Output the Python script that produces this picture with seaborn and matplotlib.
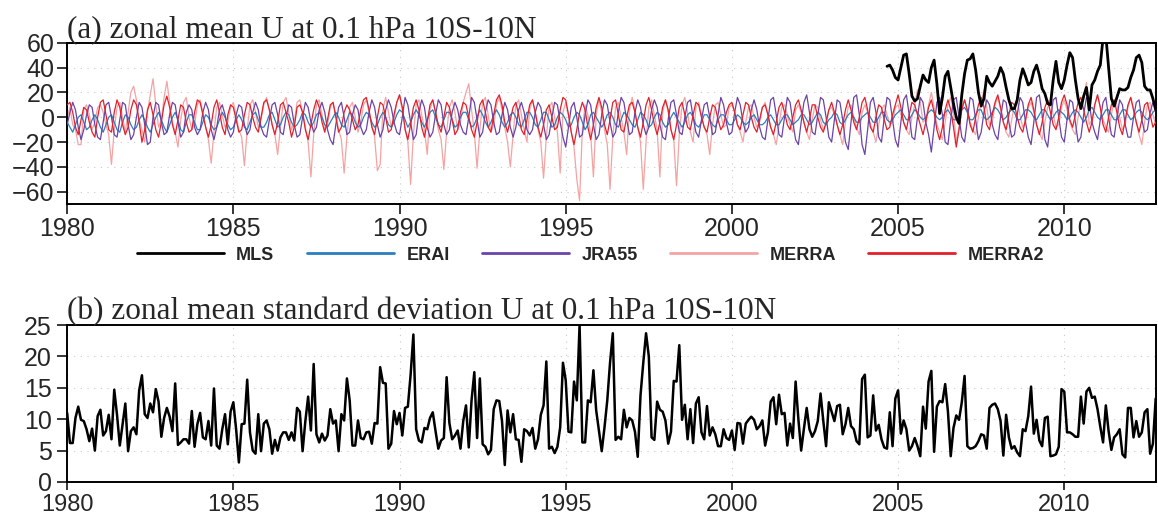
import numpy as np
import pandas as pd
import matplotlib
matplotlib.use("Agg")
import matplotlib.pyplot as plt
import seaborn as sns

# ---------------- data ----------------
start_year = 1980
# MLS: Sep 2004 .. Oct 2012 (month index 296 onward)
mls_start_month = 296
mls = [41, 42, 38, 32, 30, 40, 50, 51, 35, 17,
       13, 15, 25, 34, 30, 28, 40, 46, 27, 3,
       16, 33, 37, 24, 11, 0, -5, 18, 35, 46,
       47, 51, 38, 20, 9, 15, 33, 28, 25, 29,
       33, 40, 35, 24, 14, 7, 7, 14, 30, 39,
       33, 26, 28, 37, 42, 34, 23, 19, 11, 10,
       30, 45, 28, 23, 30, 42, 52, 48, 30, 15,
       7, 17, 24, 6, 26, 30, 37, 42, 64, 66,
       40, 15, 9, 16, 23, 22, 22, 24, 32, 38,
       48, 50, 44, 25, 22, 22, 15, 6]

merra2 = [
 [10, 12, 4, -8, -14, -2, 8, 6, -4, -12, -16, 0],
 [12, 14, 2, -10, -12, 4, 14, 8, -6, -14, -8, 6],
 [14, 10, -4, -20, -10, 6, 12, 2, -10, -16, -4, 10],
 [17, 8, -6, -14, -2, 10, 8, -4, -12, -10, 4, 14],
 [12, 2, -8, -16, -6, 8, 14, 4, -8, -14, 2, 10],
 [8, -2, -12, -10, 2, 12, 10, 0, -8, -12, 0, 12],
 [14, 6, -6, -14, -4, 10, 12, 4, -4, -16, -8, 8],
 [10, 4, -10, -18, -6, 6, 14, 8, -4, -12, -2, 10],
 [12, 0, -12, -8, 4, 10, 6, -2, -10, -6, 6, 14],
 [16, 6, -8, -14, 0, 12, 10, 0, -12, -10, 2, 12],
 [18, 8, -10, -18, -6, 8, 14, 6, -8, -16, -4, 10],
 [14, 4, -6, -12, 0, 12, 8, -2, -14, -10, 4, 12],
 [10, 0, -10, -16, -4, 10, 14, 4, -8, -12, 2, 14],
 [18, 10, -4, -12, -2, 8, 12, 2, -10, -14, -2, 10],
 [14, 4, -8, -16, -6, 6, 10, 0, -10, -8, 6, 16],
 [14, 2, -12, -22, -10, 4, 12, 6, -8, -18, -6, 8],
 [16, 8, -6, -14, -2, 12, 14, 2, -10, -12, 0, 10],
 [12, 4, -8, -16, -4, 10, 16, 6, -6, -14, -4, 8],
 [14, 6, -10, -18, -6, 8, 12, 2, -8, -10, 2, 12],
 [10, 0, -8, -12, 0, 10, 8, -2, -10, -6, 4, 10],
 [12, 4, -6, -10, 2, 12, 10, 0, -8, -12, -2, 8],
 [10, 2, -8, -14, -4, 8, 12, 4, -6, -10, 0, 10],
 [14, 6, -4, -12, -2, 10, 10, 0, -8, -12, -4, 6],
 [12, 4, -6, -14, -6, 6, 14, 6, -4, -10, 0, 12],
 [16, 6, -8, -12, 0, 10, 8, -2, -10, -8, 2, 10],
 [18, 8, -4, -10, 2, 12, 10, 2, -6, -14, -4, 8],
 [14, 4, -10, -18, -8, 6, 14, 6, -8, -24, -10, 6],
 [14, 6, -6, -12, 0, 10, 16, 8, -6, -10, 2, 12],
 [18, 8, -4, -10, 2, 12, 10, 0, -8, -12, -2, 10],
 [16, 6, -6, -14, -4, 8, 14, 4, -6, -10, 0, 12],
 [18, 10, -2, -8, 2, 12, 16, 6, -4, -12, -4, 10],
 [18, 8, -6, -12, 0, 10, 14, 4, -8, -14, -2, 10],
 [16, 6, -4, -12, -2, 10, 12, 2, -8, -4]]

jra55 = [
 [-6, 4, 12, 6, -8, -18, -10, 2, 10, 8, -6, -16],
 [-18, -4, 10, 12, 0, -14, -16, -2, 12, 10, -6, -18],
 [-14, 0, 12, 8, -6, -22, -20, 0, 12, 10, -4, -14],
 [-12, 2, 12, 10, -4, -16, -12, 4, 10, 6, -8, -14],
 [-10, 4, 12, 6, -10, -18, -8, 6, 10, 2, -10, -16],
 [-12, 2, 10, 8, -6, -14, -10, 4, 12, 6, -8, -14],
 [-16, -2, 10, 12, 2, -12, -14, 0, 10, 8, -6, -16],
 [-14, 0, 12, 8, -4, -12, -8, 6, 12, 4, -10, -18],
 [-22, -6, 8, 12, 0, -14, -12, 2, 10, 6, -8, -14],
 [-10, 4, 14, 8, -6, -16, -10, 6, 14, 8, -4, -12],
 [-14, 0, 16, 10, -4, -18, -14, 4, 14, 8, -8, -16],
 [-12, 2, 14, 10, -6, -14, -10, 4, 12, 6, -6, -12],
 [-14, 0, 16, 12, -2, -16, -12, 4, 14, 10, -4, -14],
 [-12, 2, 12, 6, -8, -16, -8, 6, 12, 4, -10, -14],
 [-10, 4, 12, 8, -6, -18, -14, 0, 12, 10, -4, -16],
 [-24, -8, 8, 12, 0, -16, -14, 2, 14, 10, -6, -18],
 [-14, 2, 14, 10, -4, -16, -12, 4, 16, 12, -2, -14],
 [-12, 4, 14, 8, -6, -14, -8, 6, 14, 8, -6, -16],
 [-18, -2, 12, 14, 2, -12, -14, 0, 12, 14, 0, -12],
 [-16, -2, 10, 12, 0, -14, -12, 2, 16, 10, -4, -14],
 [-12, 4, 16, 10, -4, -12, -8, 6, 14, 6, -8, -16],
 [-18, -2, 14, 16, 2, -14, -16, 0, 16, 12, -4, -18],
 [-22, -4, 12, 18, 4, -12, -14, 2, 16, 14, 0, -16],
 [-20, -2, 14, 12, -2, -20, -26, -4, 16, 18, 2, -22],
 [-30, -10, 12, 16, 4, -16, -20, 0, 16, 14, -2, -18],
 [-24, -4, 14, 18, 2, -16, -18, 0, 16, 12, -4, -14],
 [-28, -8, 12, 16, 2, -20, -22, -2, 14, 16, 0, -16],
 [-20, -2, 16, 14, -2, -18, -12, 4, 14, 10, -6, -14],
 [-18, 0, 14, 12, -4, -16, -14, 2, 16, 12, -4, -16],
 [-22, -4, 16, 18, 2, -18, -24, -2, 14, 16, 0, -16],
 [-20, -2, 14, 12, -4, -20, -16, 2, 16, 12, -4, -12],
 [-18, -2, 12, 16, 0, -14, -16, 0, 14, 10, -6, -16],
 [-16, 0, 12, 14, -2, -12, -10, 4, 12, 8]]

erai = [
 [-4, -8, -12, -6, 0, 2, -4, -10, -8, -2, 2, -2],
 [-8, -12, -6, 0, 2, -4, -10, -12, -4, 2, 0, -6],
 [-10, -8, -2, 2, -2, -8, -12, -6, 0, 4, -2, -8],
 [-12, -6, 0, 4, -2, -10, -12, -4, 2, 2, -4, -10],
 [-10, -4, 2, 0, -6, -10, -8, -2, 4, 0, -6, -10],
 [-8, -2, 2, -2, -8, -10, -4, 2, 4, -2, -8, -8],
 [-4, 2, 4, -2, -8, -6, 0, 4, 2, -4, -8, -6],
 [-2, 4, 2, -4, -8, -4, 2, 4, 0, -6, -8, -4],
 [0, 4, 0, -6, -8, -2, 4, 2, -4, -8, -6, 0],
 [4, 2, -4, -8, -6, 0, 4, 0, -6, -8, -4, 2],
 [6, 4, -2, -8, -4, 2, 6, 2, -4, -8, -2, 4],
 [6, 0, -6, -8, -2, 4, 4, -2, -8, -6, 0, 4],
 [4, -2, -8, -6, 0, 6, 2, -4, -8, -4, 2, 6],
 [2, -4, -8, -4, 2, 4, 0, -6, -8, -2, 4, 4],
 [0, -6, -8, -2, 4, 4, -2, -8, -6, 0, 4, 2],
 [-2, -8, -6, 0, 4, 2, -4, -10, -6, 2, 4, 0],
 [-4, -8, -4, 2, 4, 0, -6, -8, -2, 4, 2, -2],
 [-6, -8, -2, 4, 2, -2, -8, -6, 0, 4, 2, -4],
 [-8, -6, 0, 4, 0, -4, -8, -4, 2, 4, 0, -6],
 [-8, -4, 2, 2, -2, -6, -8, -2, 2, 2, -2, -6],
 [-6, -2, 2, 0, -4, -6, -4, 0, 2, -2, -6, -6],
 [-4, 0, 2, -2, -6, -6, -2, 2, 2, -2, -6, -4],
 [-2, 2, 2, -2, -6, -4, 0, 4, 2, -4, -6, -2],
 [0, 4, 2, -4, -6, -2, 2, 4, 0, -4, -4, 0],
 [2, 4, 0, -4, -4, 0, 4, 4, -2, -4, -2, 2],
 [4, 6, 2, -2, -2, 2, 6, 4, 0, -2, 0, 4],
 [6, 4, 0, -2, 0, 4, 6, 2, -2, -2, 2, 6],
 [8, 4, -2, -2, 2, 6, 6, 0, -2, 0, 4, 8],
 [6, 2, -2, 0, 4, 6, 4, -2, -2, 2, 6, 6],
 [4, 0, -2, 2, 6, 6, 2, -2, 0, 4, 6, 4],
 [2, -2, 0, 4, 6, 4, 0, -4, 0, 6, 8, 4],
 [0, -2, 2, 6, 6, 2, -2, -2, 2, 6, 6, 2],
 [-2, 0, 4, 6, 4, 0, -2, 0, 4, 6]]

merra = [
 [0, 8, -6, -10, -22, -22, 6, 10, 2, -10, -4, 8],
 [10, 4, -6, -14, -38, -10, 8, 12, 0, -12, 4, 20],
 [25, 14, -2, -10, -20, 4, 18, 31, 10, -8, -2, 16],
 [29, 12, -4, -12, -24, -2, 12, 16, 0, -10, -6, 10],
 [14, 4, -8, -18, -37, -12, 8, 12, 2, -8, -4, 8],
 [12, 2, -10, -16, -39, -10, 10, 14, 4, -8, -2, 10],
 [16, 6, -6, -14, -30, -8, 12, 16, 4, -10, -4, 12],
 [14, 4, -8, -20, -48, -14, 10, 14, 2, -10, -6, 8],
 [12, 2, -10, -18, -45, -16, 8, 12, 0, -12, -4, 10],
 [14, 4, -6, -16, -43, -38, 6, 16, 4, -8, -2, 12],
 [18, 6, -8, -20, -54, -14, 10, 14, 2, -10, -30, 6],
 [14, 4, -10, -18, -42, -12, 8, 14, 4, -10, -4, 12],
 [20, 27, 6, -12, -41, -10, 12, 16, 2, -12, -6, 10],
 [16, 6, -8, -20, -40, -14, 10, 14, 2, -10, -20, 6],
 [14, 4, -10, -20, -49, -16, 8, 12, 0, -12, -45, 4],
 [12, 2, -12, -24, -50, -67, -10, 10, 2, -14, -48, 2],
 [14, 4, -10, -22, -58, -16, 8, 12, 0, -12, -30, 6],
 [16, 6, -8, -20, -58, -20, 8, 14, 2, -10, -48, 4],
 [14, 4, -10, -18, -55, -14, 10, 16, 4, -12, -20, 8],
 [12, 2, -8, -14, -30, -6, 10, 12, 2, -8, -6, 8],
 [10, 4, -6, -12, -20, -4, 8, 10, 0, -8, -4, 8],
 [12, 2, -8, -14, -22, -6, 8, 10, 2, -6, -12, 6],
 [10, 4, -4, -12, -18, -2, 10, 8, -2, -10, -6, 6],
 [8, 2, -6, -14, -22, -4, 8, 10, 0, -8, -14, 4],
 [10, 4, -6, -12, -20, -6, 6, 10, 2, -6, -4, 8],
 [10, 2, -4, -10, -14, 0, 10, 22, 12, -4, -2, 10],
 [20, 8, -6, -12, -18, -4, 10, 16, 4, -20, -8, 8],
 [14, 4, -4, -10, -14, 0, 12, 22, 8, -6, -4, 10],
 [16, 6, -4, -12, -16, -2, 10, 14, 2, -8, -4, 8],
 [12, 4, -6, -12, -18, -4, 8, 12, 2, -8, -6, 8],
 [14, 6, -4, -10, -14, 0, 12, 16, 28, -6, -2, 10],
 [18, 8, -2, -8, -12, 2, 14, 10, 0, -10, -6, 8],
 [16, 6, -4, -14, -22, -4, 10, 12, 2, -6]]

# zonal mean standard deviation (panel b), Jan 1980 .. Oct 2012
std_u = [
 11.0, 6.2, 6.2, 10.2, 12.0, 9.9, 9.7, 8.4, 6.5, 8.5, 5.0, 10.5,
 11.5, 7.4, 8.1, 10.7, 6.8, 14.7, 10.7, 5.8, 9.2, 12.5, 4.9, 8.1,
 8.7, 7.6, 14.6, 17.0, 10.8, 10.2, 12.5, 11.1, 14.8, 12.8, 7.2, 10.2,
 11.8, 10.4, 8.1, 15.7, 5.9, 6.3, 6.8, 6.8, 6.1, 11.3, 5.6, 9.2,
 11.0, 7.1, 6.8, 9.7, 5.8, 14.9, 5.8, 5.3, 8.4, 10.8, 6.0, 11.2,
 12.7, 8.4, 3.1, 9.2, 9.3, 16.3, 7.9, 5.0, 4.5, 10.8, 4.9, 9.3,
 9.8, 8.4, 4.5, 6.7, 5.0, 7.1, 7.9, 7.9, 6.7, 7.9, 6.6, 11.8,
 11.2, 4.9, 9.7, 13.6, 8.2, 18.8, 7.6, 6.3, 7.7, 6.6, 7.4, 11.6,
 9.3, 9.8, 4.9, 10.8, 9.8, 16.5, 13.0, 5.8, 5.8, 9.8, 7.0, 6.8,
 7.9, 8.0, 6.1, 9.4, 9.3, 18.3, 15.8, 15.7, 5.3, 6.1, 11.3, 9.2,
 11.0, 7.4, 11.8, 12.0, 17.1, 23.5, 8.4, 6.6, 6.3, 8.6, 8.4, 10.2,
 11.1, 8.1, 5.3, 6.6, 7.0, 16.7, 9.4, 6.8, 7.4, 8.2, 5.3, 9.7,
 12.2, 5.5, 13.0, 17.5, 7.0, 16.5, 6.0, 5.6, 4.4, 5.1, 11.6, 13.0,
 12.9, 9.7, 2.7, 11.4, 7.9, 10.8, 6.8, 6.7, 3.2, 8.4, 8.1, 7.4,
 8.6, 5.3, 6.8, 10.7, 12.2, 19.2, 5.3, 5.6, 4.6, 5.6, 8.7, 19.0,
 16.2, 8.0, 7.9, 16.0, 13.0, 25.0, 6.3, 6.3, 13.0, 12.7, 17.8, 11.4,
 8.2, 4.9, 8.7, 13.0, 19.0, 23.7, 6.7, 7.2, 6.8, 11.5, 8.7, 10.2,
 9.8, 8.0, 4.0, 13.8, 19.0, 23.7, 20.0, 7.1, 6.7, 12.8, 11.5, 11.2,
 9.8, 6.1, 8.0, 16.1, 16.0, 21.8, 9.9, 12.3, 6.8, 11.6, 6.2, 12.5,
 13.5, 7.9, 6.8, 12.1, 7.4, 8.7, 7.6, 5.7, 5.7, 8.4, 7.0, 6.7,
 8.2, 5.1, 9.4, 9.3, 6.1, 9.3, 9.9, 10.4, 9.9, 8.4, 8.9, 9.8,
 5.8, 7.9, 12.8, 13.5, 9.2, 13.9, 10.8, 11.0, 5.8, 9.3, 7.0, 16.0,
 10.0, 5.0, 8.5, 11.8, 8.4, 7.2, 8.1, 9.7, 14.1, 9.7, 5.7, 12.7,
 11.2, 9.7, 12.1, 12.3, 7.6, 9.2, 11.8, 8.9, 8.4, 6.5, 6.0, 16.4,
 17.1, 7.1, 7.4, 13.8, 8.2, 9.1, 6.8, 5.5, 5.3, 11.1, 5.7, 13.3,
 14.6, 7.7, 9.8, 8.4, 5.0, 5.7, 7.0, 5.7, 4.1, 12.0, 8.5, 16.0,
 17.7, 4.8, 12.0, 12.9, 12.7, 15.6, 11.2, 4.1, 8.6, 10.6, 9.9, 12.7,
 16.9, 5.7, 5.3, 5.4, 5.7, 6.5, 7.6, 7.4, 5.3, 11.8, 12.3, 12.5,
 11.6, 9.7, 4.2, 10.7, 7.1, 5.3, 5.7, 4.7, 4.1, 8.4, 8.1, 10.5,
 15.2, 7.7, 9.9, 6.6, 5.7, 10.2, 10.4, 4.1, 4.2, 4.4, 5.6, 14.8,
 14.4, 7.9, 7.9, 7.6, 7.2, 7.2, 13.6, 9.3, 14.4, 15.0, 13.4, 13.6,
 11.6, 8.8, 6.3, 12.2, 8.1, 5.1, 7.1, 7.6, 8.4, 4.4, 3.9, 11.8,
 11.8, 7.1, 9.7, 7.2, 7.9, 11.1, 11.6, 4.5, 6.1, 13.3]

series_names = ["MLS", "ERAI", "JRA55", "MERRA", "MERRA2"]
series_colors = {"MLS": "#000000", "ERAI": "#2b7fc0", "JRA55": "#6a44a8",
                 "MERRA": "#f4a3a3", "MERRA2": "#e3202b"}
xtick_years = [1980, 1985, 1990, 1995, 2000, 2005, 2010]
yticks_a = [-60, -40, -20, 0, 20, 40, 60]
yticks_b = [0, 5, 10, 15, 20, 25]
title_a = "(a) zonal mean U at 0.1 hPa 10S-10N"
title_b = "(b) zonal mean standard deviation U at 0.1 hPa 10S-10N"

# ---------------- build tables ----------------
def flat(rows):
    return [v for r in rows for v in r]

n_months = len(std_u)
t_all = start_year + np.arange(n_months) / 12.0
frames = []
for name, rows in [("ERAI", erai), ("JRA55", jra55), ("MERRA", merra), ("MERRA2", merra2)]:
    vals = flat(rows)
    assert len(vals) == n_months, (name, len(vals))
    frames.append(pd.DataFrame({"t": t_all, "u": vals, "src": name}))
t_mls = start_year + (mls_start_month + np.arange(len(mls))) / 12.0
frames.append(pd.DataFrame({"t": t_mls, "u": mls, "src": "MLS"}))
df = pd.concat(frames, ignore_index=True)
df_std = pd.DataFrame({"t": t_all, "s": std_u})

# ---------------- plot ----------------
sns.set_theme(style="white")
plt.rcParams["font.family"] = ["Liberation Sans", "DejaVu Sans"]
plt.rcParams["axes.linewidth"] = 1.4

fig = plt.figure(figsize=(11.58, 5.21), dpi=100)
ax1 = fig.add_axes([0.058, 0.608, 0.940, 0.310])
ax2 = fig.add_axes([0.058, 0.075, 0.940, 0.301])

draw_order = [("MERRA", 0.9, 1), ("ERAI", 0.9, 2), ("JRA55", 0.9, 3), ("MERRA2", 0.9, 4), ("MLS", 2.0, 5)]
for name, lw, z in draw_order:
    sub = df[df["src"] == name]
    sns.lineplot(data=sub, x="t", y="u", ax=ax1, color=series_colors[name],
                 lw=lw, label=name, zorder=z, estimator=None, sort=True)

sns.lineplot(data=df_std, x="t", y="s", ax=ax2, color="black", lw=1.8,
             estimator=None, legend=False)

xmax = start_year + (n_months - 1) / 12.0
for ax, yt, yl in [(ax1, yticks_a, (-70, 60)), (ax2, yticks_b, (0, 25))]:
    ax.set_xlim(start_year, xmax)
    ax.set_ylim(*yl)
    ax.set_xticks(xtick_years)
    ax.set_yticks(yt)
    ax.set_xlabel("")
    ax.set_ylabel("")
    ax.tick_params(axis="both", direction="out", length=7, width=1.3,
                   labelsize=18, pad=2, left=True, bottom=True)
    ax.grid(True, ls=(0, (1, 5)), color="#c8c8c8", lw=0.8)
    for sp in ax.spines.values():
        sp.set_visible(True)
        sp.set_color("black")
        sp.set_linewidth(1.4)
ax2.tick_params(axis="x", length=6, pad=3, labelsize=17)
ax2.tick_params(axis="y", pad=4)

ax1.set_title(title_a, loc="left", fontsize=22.5, pad=4,
              fontfamily=["Liberation Serif", "DejaVu Serif"])
ax2.set_title(title_b, loc="left", fontsize=22.5, pad=4,
              fontfamily=["Liberation Serif", "DejaVu Serif"])

handles, labels = ax1.get_legend_handles_labels()
hmap = dict(zip(labels, handles))
ax1.get_legend().remove()
leg = fig.legend([hmap[n] for n in series_names], series_names, loc="center",
                 bbox_to_anchor=(0.51, 0.51), ncol=5, frameon=False,
                 handlelength=4.8, handletextpad=0.7, columnspacing=1.8,
                 prop={"family": "Liberation Sans", "weight": "bold", "size": 13})
for lh in leg.get_lines():
    lh.set_linewidth(2.0)

fig.savefig("out.png", dpi=100)
